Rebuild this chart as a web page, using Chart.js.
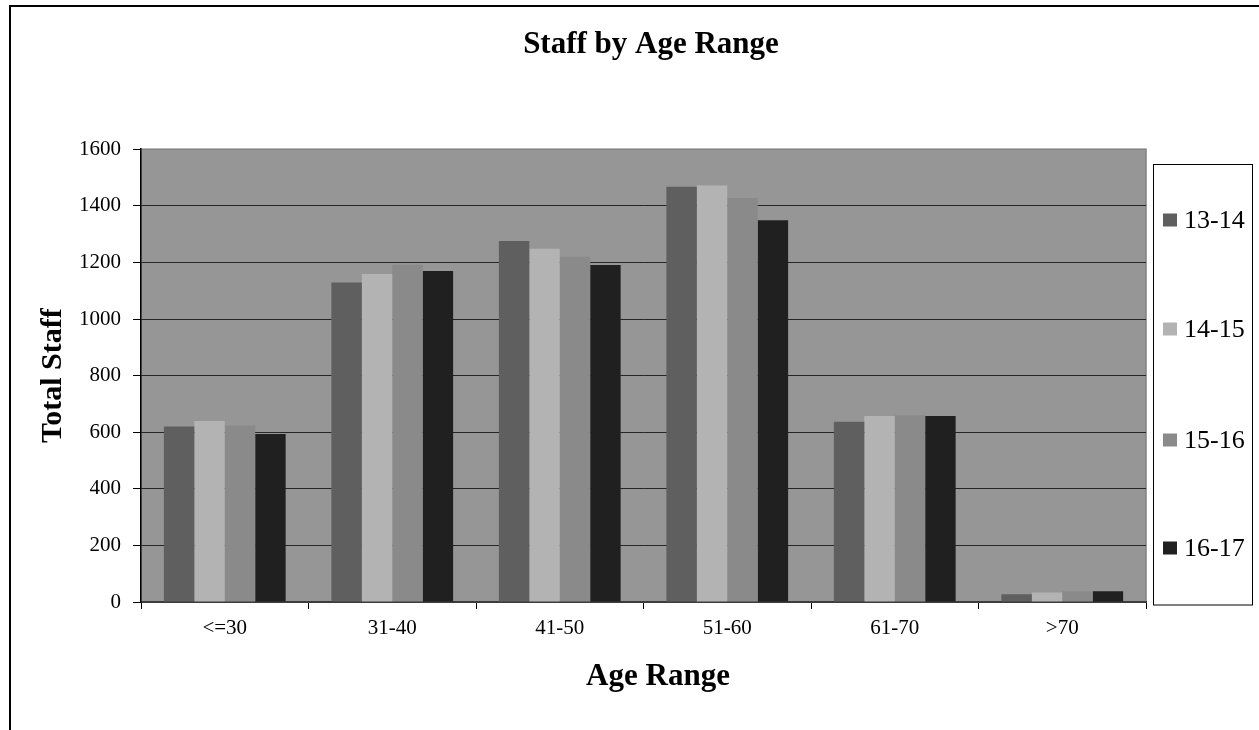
<!DOCTYPE html>
<html>
<head>
<meta charset="utf-8">
<title>Staff by Age Range</title>
<script src="https://cdn.jsdelivr.net/npm/chart.js@4/dist/chart.umd.min.js"></script>
<style>
  html, body { margin: 0; padding: 0; background: #ffffff; }
  canvas { display: block; }
</style>
</head>
<body>
<canvas id="chart" width="1259" height="730"></canvas>
<script>
// Age bands on the x axis
const ageRanges = ['<=30', '31-40', '41-50', '51-60', '61-70', '>70'];

// Staff counts per age band, one array per year
const years = ['13-14', '14-15', '15-16', '16-17'];
const staff1314 = [620, 1129, 1276, 1467, 637, 27];
const staff1415 = [640, 1159, 1248, 1472, 657, 34];
const staff1516 = [624, 1192, 1220, 1428, 660, 38];
const staff1617 = [594, 1170, 1191, 1349, 657, 38];

// Value axis ticks
const yMin = 0;
const yMax = 1600;
const yStep = 200;

const seriesValues = [staff1314, staff1415, staff1516, staff1617];
const seriesColors = ['#5f5f5f', '#b3b3b3', '#8a8a8a', '#202020'];

const SERIF = "'Liberation Serif', 'Times New Roman', 'DejaVu Serif', serif";
Chart.defaults.font.family = SERIF;
Chart.defaults.color = '#000000';

// Outer frame, white page and grey plot area
const backdrop = {
  id: 'backdrop',
  beforeDraw(chart) {
    const { ctx, chartArea: a } = chart;
    ctx.save();
    ctx.fillStyle = '#ffffff';
    ctx.fillRect(0, 0, chart.width, chart.height);
    ctx.strokeStyle = '#000000';
    ctx.lineWidth = 2;
    ctx.strokeRect(10, 6, chart.width + 20, chart.height + 20);
    ctx.fillStyle = '#969696';
    ctx.fillRect(a.left, a.top, a.right - a.left, a.bottom - a.top);
    ctx.strokeStyle = '#808080';
    ctx.lineWidth = 1.5;
    ctx.strokeRect(a.left, a.top, a.right - a.left, a.bottom - a.top);
    ctx.restore();
  }
};

// Centre the chart title over the page column
const titleShift = {
  id: 'titleShift',
  afterLayout(chart) {
    const t = chart.titleBlock;
    if (!t) return;
    const w = t.right - t.left;
    const cx = 651;
    t.left = cx - w / 2;
    t.right = cx + w / 2;
  }
};

// Category axis caption, set a little right of the plot centre
const xCaption = {
  id: 'xCaption',
  afterDraw(chart) {
    const { ctx } = chart;
    ctx.save();
    ctx.font = 'bold 31px ' + SERIF;
    ctx.fillStyle = '#000000';
    ctx.textAlign = 'center';
    ctx.textBaseline = 'middle';
    ctx.fillText('Age Range', 658, 677);
    ctx.restore();
  }
};

// Boxed legend on the right with evenly spread entries
const boxedLegend = {
  id: 'boxedLegend',
  afterDraw(chart) {
    const { ctx } = chart;
    const box = { x: 1153.5, y: 164.5, w: 99, h: 440.5 };
    const rows = [220, 329, 440, 548];
    ctx.save();
    ctx.fillStyle = '#ffffff';
    ctx.fillRect(box.x, box.y, box.w, box.h);
    ctx.strokeStyle = '#000000';
    ctx.lineWidth = 1;
    ctx.strokeRect(box.x, box.y, box.w, box.h);
    ctx.font = '26px ' + SERIF;
    ctx.textBaseline = 'middle';
    ctx.textAlign = 'left';
    chart.data.datasets.forEach((ds, i) => {
      const y = rows[i];
      ctx.fillStyle = ds.backgroundColor;
      ctx.fillRect(1163, y - 6.5, 14, 13);
      ctx.fillStyle = '#000000';
      ctx.fillText(ds.label, 1184, y + 1);
    });
    ctx.restore();
  }
};

new Chart(document.getElementById('chart'), {
  type: 'bar',
  data: {
    labels: ageRanges,
    datasets: years.map((year, i) => ({
      label: year,
      data: seriesValues[i],
      backgroundColor: seriesColors[i],
      borderWidth: 0,
      categoryPercentage: 0.727,
      barPercentage: 1.0
    }))
  },
  options: {
    responsive: false,
    animation: false,
    layout: { padding: { left: 0, right: 113, top: 0, bottom: 0 } },
    plugins: {
      legend: { display: false },
      tooltip: { enabled: false },
      title: {
        display: true,
        text: 'Staff by Age Range',
        font: { size: 31, weight: 'bold', family: SERIF },
        color: '#000000',
        padding: { top: 26, bottom: 86 }
      }
    },
    scales: {
      x: {
        afterFit(scale) { scale.height = 128; },
        grid: {
          display: true,
          offset: true,
          drawOnChartArea: false,
          drawTicks: true,
          tickLength: 7,
          color: '#000000',
          lineWidth: 1
        },
        border: { display: true, color: '#3c3c3c', width: 2 },
        ticks: {
          font: { size: 21, family: SERIF },
          color: '#000000',
          padding: 7,
          maxRotation: 0
        },
        title: { display: false }
      },
      y: {
        min: yMin,
        max: yMax,
        afterFit(scale) { scale.width = 141; },
        grid: {
          color: (c) => (c.tick && c.tick.value === yMax ? 'rgba(0,0,0,0)' : '#262626'),
          tickColor: '#000000',
          lineWidth: 1,
          drawTicks: true,
          tickLength: 8
        },
        border: { display: true, color: '#000000', width: 1.5 },
        ticks: {
          stepSize: yStep,
          font: { size: 21, family: SERIF },
          color: '#000000',
          padding: 12,
          callback: (v) => String(v)
        },
        title: {
          display: true,
          text: 'Total Staff',
          font: { size: 30, weight: 'bold', family: SERIF },
          color: '#000000',
          padding: { top: 35, bottom: 0 }
        }
      }
    }
  },
  plugins: [backdrop, titleShift, xCaption, boxedLegend]
});
</script>
</body>
</html>
